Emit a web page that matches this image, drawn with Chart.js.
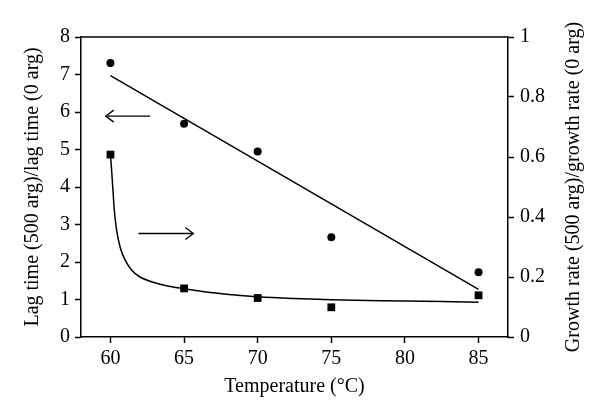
<!DOCTYPE html>
<html>
<head>
<meta charset="utf-8">
<script src="https://cdn.jsdelivr.net/npm/chart.js@4/dist/chart.umd.min.js"></script>
<style>
  html, body { margin: 0; padding: 0; background: #fff; }
  #wrap { width: 600px; height: 419px; }
</style>
</head>
<body>
<div id="wrap"><canvas id="chart" width="600" height="419"></canvas></div>
<script>
// measured points
const temps = [60, 65, 70, 75, 85];
const lagRatio = [7.31, 5.69, 4.95, 2.66, 1.73];
const growthRatio = [0.608, 0.162, 0.13, 0.099, 0.139];

// fitted lines
const lagFitX = [60, 85];
const lagFitY = [6.97, 1.27];
const growthFitX = [60, 60.08, 60.17, 60.26, 60.42, 60.65, 61, 61.45, 62, 62.9, 63.8, 65, 66.5, 68.3, 70, 72.5, 75, 80, 85];
const growthFitY = [0.608, 0.556, 0.49, 0.424, 0.356, 0.301, 0.256, 0.2225, 0.2, 0.1825, 0.171, 0.161, 0.15, 0.141, 0.134, 0.128, 0.124, 0.12, 0.116];

// arrows (start -> tip)
const leftArrowX = [62.7, 59.68];
const leftArrowY = [5.89, 5.89];
const rightArrowX = [61.9, 65.63];
const rightArrowY = [2.76, 2.76];

// tick labels
const xTicks = [60, 65, 70, 75, 80, 85];
const lagTicks = [0, 1, 2, 3, 4, 5, 6, 7, 8];
const growthTicks = [0, 0.2, 0.4, 0.6, 0.8, 1];

const FONT = 'Liberation Serif';
const pts = (xs, ys) => xs.map((x, i) => ({ x: x, y: ys[i] }));

const arrowHeads = {
    id: 'arrowHeads',
    afterDatasetsDraw(chart) {
        const ctx = chart.ctx;
        const xs = chart.scales.x, ys = chart.scales.y;
        [[leftArrowX, leftArrowY], [rightArrowX, rightArrowY]].forEach(([ax, ay]) => {
            const tx = xs.getPixelForValue(ax[1]);
            const ty = ys.getPixelForValue(ay[1]);
            const dir = ax[1] > ax[0] ? 1 : -1;
            ctx.save();
            ctx.strokeStyle = '#000';
            ctx.lineWidth = 1.3;
            ctx.beginPath();
            ctx.moveTo(tx - dir * 8, ty - 6);
            ctx.lineTo(tx, ty);
            ctx.lineTo(tx - dir * 8, ty + 6);
            ctx.stroke();
            ctx.restore();
        });
    }
};

// top frame line and right axis title (reads bottom to top)
const frameExtras = {
    id: 'frameExtras',
    afterDraw(chart) {
        const ctx = chart.ctx;
        const a = chart.chartArea;
        ctx.save();
        ctx.strokeStyle = '#000';
        ctx.lineWidth = 1.5;
        ctx.beginPath();
        ctx.moveTo(a.left, a.top);
        ctx.lineTo(a.right, a.top);
        ctx.stroke();

        ctx.fillStyle = '#000';
        ctx.font = '20px "' + FONT + '"';
        ctx.textAlign = 'center';
        ctx.textBaseline = 'middle';
        ctx.translate(574, (a.top + a.bottom) / 2);
        ctx.rotate(-Math.PI / 2);
        ctx.fillText('Growth rate (500 arg)/growth rate (0 arg)', 0, 0);
        ctx.restore();
    }
};

const tickFont = { family: FONT, size: 20 };
const axisGrid = { display: true, drawOnChartArea: false, drawTicks: true, tickLength: 6, tickColor: '#000', tickWidth: 1.5 };
const axisBorder = { display: true, color: '#000', width: 1.5 };

new Chart(document.getElementById('chart'), {
    type: 'scatter',
    data: {
        datasets: [
            {
                data: pts(temps, lagRatio), yAxisID: 'y',
                pointStyle: 'circle', pointRadius: 4, pointBackgroundColor: '#000', pointBorderWidth: 0,
                showLine: false
            },
            {
                data: pts(lagFitX, lagFitY), yAxisID: 'y',
                showLine: true, borderColor: '#000', borderWidth: 1.5, pointRadius: 0
            },
            {
                data: pts(temps, growthRatio), yAxisID: 'y1',
                pointStyle: 'rect', pointRadius: 5.5, pointBackgroundColor: '#000', pointBorderWidth: 0,
                showLine: false
            },
            {
                data: pts(growthFitX, growthFitY), yAxisID: 'y1',
                showLine: true, borderColor: '#000', borderWidth: 1.5, pointRadius: 0,
                cubicInterpolationMode: 'monotone'
            },
            {
                data: pts(leftArrowX, leftArrowY), yAxisID: 'y',
                showLine: true, borderColor: '#000', borderWidth: 1.3, pointRadius: 0
            },
            {
                data: pts(rightArrowX, rightArrowY), yAxisID: 'y',
                showLine: true, borderColor: '#000', borderWidth: 1.3, pointRadius: 0
            }
        ]
    },
    options: {
        responsive: false,
        animation: false,
        layout: { padding: { top: 37, left: 17, right: 0, bottom: 16 } },
        plugins: { legend: { display: false }, tooltip: { enabled: false } },
        scales: {
            x: {
                type: 'linear', min: 58, max: 87,
                afterBuildTicks: s => { s.ticks = xTicks.map(v => ({ value: v })); },
                afterFit: s => { s.height = 66; },
                ticks: { font: tickFont, color: '#000', padding: 4, maxRotation: 0 },
                grid: axisGrid, border: axisBorder,
                title: { display: true, text: 'Temperature (°C)', color: '#000', font: { family: FONT, size: 20 } }
            },
            y: {
                type: 'linear', position: 'left', min: 0, max: 8,
                afterBuildTicks: s => { s.ticks = lagTicks.map(v => ({ value: v })); },
                afterFit: s => { s.width = 64; },
                ticks: { font: tickFont, color: '#000', padding: 5 },
                grid: axisGrid, border: axisBorder,
                title: { display: true, text: 'Lag time (500 arg)/lag time (0 arg)', color: '#000', font: { family: FONT, size: 20 } }
            },
            y1: {
                type: 'linear', position: 'right', min: 0, max: 1,
                afterBuildTicks: s => { s.ticks = growthTicks.map(v => ({ value: v })); },
                afterFit: s => { s.width = 92; },
                ticks: { font: tickFont, color: '#000', padding: 6, callback: v => String(v) },
                grid: axisGrid, border: axisBorder
            }
        }
    },
    plugins: [arrowHeads, frameExtras]
});
</script>
</body>
</html>
